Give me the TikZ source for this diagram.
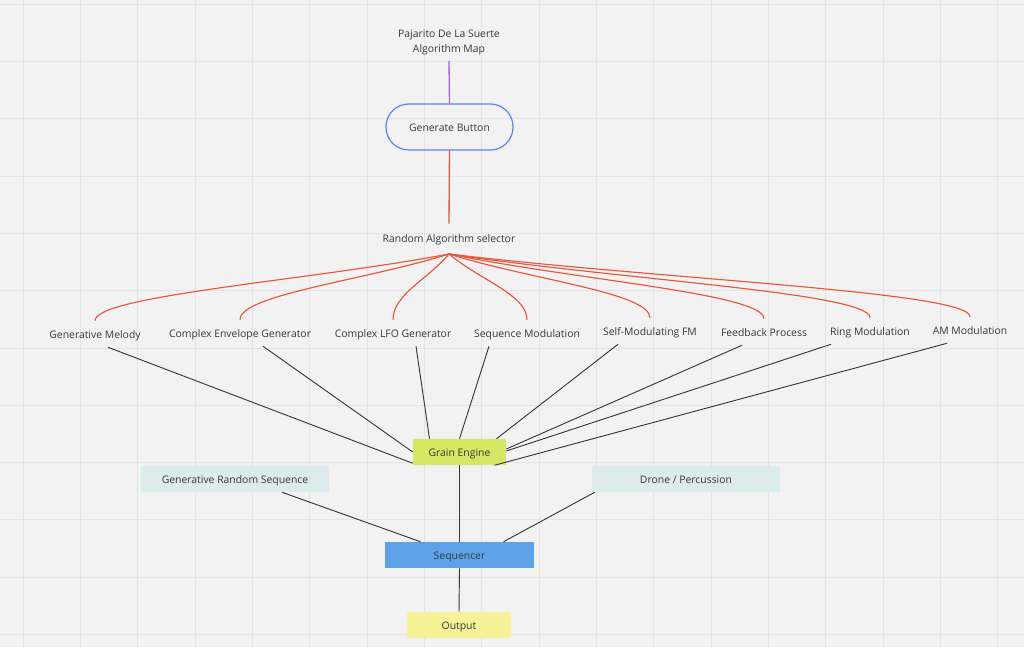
\documentclass[tikz,border=0pt]{standalone}
\usepackage{fontspec}
\setmainfont{Open Sans}
\usepackage{tikz}
\usetikzlibrary{calc}

\definecolor{bgcol}{HTML}{F2F2F2}
\definecolor{gridcol}{HTML}{E4E4E4}
\definecolor{txtcol}{HTML}{383838}
\definecolor{purplecol}{HTML}{AC5FE9}
\definecolor{redcol}{HTML}{E8553A}
\definecolor{btncol}{HTML}{5A84F3}
\definecolor{graincol}{HTML}{D5E763}
\definecolor{seqcol}{HTML}{5EA3EA}
\definecolor{outcol}{HTML}{F6F297}
\definecolor{tealcol}{HTML}{DCEBEC}

\tikzset{
  lbl/.style={text=txtcol, font=\fontsize{7.8}{11.25}\selectfont, inner sep=0pt, text height=7pt, text depth=0pt, minimum height=19.5pt},
  box/.style={lbl, minimum height=19.5pt},
  sel/.style={redcol, line width=0.85pt},
  wire/.style={txtcol, line width=0.7pt}
}

\begin{document}
\begin{tikzpicture}[x=0.75pt, y=-0.75pt]
            \useasboundingbox [fill=bgcol] (0,0) rectangle (1024,647);
            % grid
            \foreach \i in {0,...,17} \draw [gridcol, line width=0.75pt] (23+57.35*\i,0) -- (23+57.35*\i,647);
            \foreach \j in {0,...,11} \draw [gridcol, line width=0.75pt] (0,4.2+57.3*\j) -- (1024,4.2+57.3*\j);

            \node [text=txtcol, font=\fontsize{7.8}{11.25}\selectfont, align=center, inner sep=4.5pt] (title) at (449,42) {Pajarito De La Suerte\\Algorithm Map};
            \node [lbl, draw=btncol, line width=0.9pt, rounded corners=17pt, minimum width=95.25pt, minimum height=34.5pt] (btn) at (449.5,127) {Generate Button};
            \node [lbl, minimum height=21pt] (rnd) at (449,238) {Random Algorithm selector};
            \coordinate (hub) at (449,254);
            \draw [purplecol, line width=1pt] (title.south) -- (btn.north);
            \draw [sel, line width=1pt] (btn.south) -- (rnd.north);

            % algorithms
            \node [lbl] (gm) at (95,334) {Generative Melody};
            \node [lbl] (ceg) at (240,333) {Complex Envelope Generator};
            \node [lbl] (lfo) at (393,333) {Complex LFO Generator};
            \node [lbl] (seqm) at (527,333) {Sequence Modulation};
            \node [lbl] (smfm) at (650,331) {Self-Modulating FM};
            \node [lbl] (fb) at (764,332) {Feedback Process};
            \node [lbl] (ring) at (870,331) {Ring Modulation};
            \node [lbl] (am) at (970,330) {AM Modulation};
            \foreach \a in {gm,ceg,lfo,seqm,smfm,fb,ring,am}
              \draw [sel] (hub) .. controls ($(hub)!.4!(\a.north)$) and ($(\a.north)+(0,-25)$) .. (\a.north);

            \node [box, fill=graincol, minimum width=69.75pt] (ge) at (459.5,452) {Grain Engine};
            \node [box, fill=tealcol, minimum width=141pt] (grs) at (235,479) {Generative Random Sequence};
            \node [box, fill=tealcol, minimum width=141pt] (drone) at (686,479) {Drone / Percussion};
            \node [box, fill=seqcol, minimum width=111.75pt] (seqr) at (459.5,555) {Sequencer};
            \node [box, fill=outcol, minimum width=78pt] (out) at (459,625) {Output};

            \draw [wire] ([xshift=9.75pt]gm.south) -- ([yshift=1.5pt]ge.south west);
            \draw [wire] ([xshift=17.25pt]ceg.south) -- (ge.west);
            \draw [wire] ([xshift=17.25pt]lfo.south) -- ([xshift=-22.5pt]ge.north);
            \draw [wire] ([xshift=-28.5pt]seqm.south) -- (ge.north);
            \draw [wire] ([xshift=-24pt]smfm.south) -- ([xshift=27.75pt]ge.north);
            \draw [wire] ([xshift=-16.5pt]fb.south) -- ([yshift=2.25pt]ge.east);
            \draw [wire] ([xshift=-29.25pt]ring.south) -- ([yshift=0.75pt]ge.east);
            \draw [wire] ([xshift=-17.25pt]am.south) -- ([xshift=26.25pt]ge.south);

            \draw [wire] (ge.south) -- (seqr.north);
            \draw [wire] ([xshift=35.25pt]grs.south) -- ([xshift=-29.25pt]seqr.north);
            \draw [wire] ([xshift=2.25pt]drone.south west) -- ([xshift=33pt]seqr.north);
            \draw [wire] (seqr.south) -- (out.north);
        \end{tikzpicture}
\end{document}
